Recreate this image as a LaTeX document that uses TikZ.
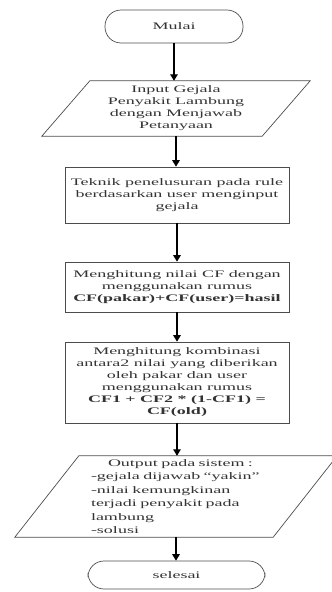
\documentclass[tikz,border=0pt]{standalone}
\usepackage{fontspec}
\setmainfont{Liberation Serif}[FakeStretch=1.8]
\usetikzlibrary{arrows.meta}

\begin{document}
\begin{tikzpicture}[x=1pt, y=1pt,
    font=\fontsize{10}{12}\selectfont,
    line/.style={draw=black!70, line width=0.7pt},
    term/.style={line, rectangle, rounded corners=16pt, align=center, text=black!80},
    proc/.style={line, rectangle, minimum width=224pt, align=center, text=black!80, inner sep=0pt},
    io/.style={rectangle, inner sep=0pt, text=black!80},
    arr/.style={-{Triangle[width=7.5pt,length=6.5pt]}, line width=1.3pt, black}]
    \useasboundingbox (0,0) rectangle (332,-592);

    % Start
    \node[term, minimum width=138pt, minimum height=33pt] (start) at (174,-26.5) {Mulai};

    % Input
    \node[io, minimum width=220pt, minimum height=55pt, align=center] (in) at (176,-108.5)
        {Input Gejala\\Penyakit Lambung\\dengan Menjawab\\Petanyaan};
    \draw[line] ([xshift=24pt]in.north west) -- ([xshift=24pt]in.north east)
        -- ([xshift=-24pt]in.south east) -- ([xshift=-24pt]in.south west) -- cycle;

    % Process steps
    \node[proc, minimum height=56pt] (s1) at (177,-195)
        {Teknik penelusuran pada rule\\berdasarkan user menginput\\gejala};
    \node[proc, minimum height=50pt] (s2) at (177,-287)
        {Menghitung nilai CF dengan\\menggunakan rumus\\\textbf{CF(pakar)+CF(user)=hasil}};
    \node[proc, minimum height=81pt] (s3) at (177,-382.5)
        {Menghitung kombinasi\\antara2 nilai yang diberikan\\oleh pakar dan user\\menggunakan rumus\\
         \textbf{CF1 + CF2 * (1-CF1) =}\\\textbf{CF(old)}};

    % Output
    \node[io, minimum width=253pt, minimum height=81pt, text width=170pt, align=left,
        font=\fontsize{10}{13.4}\selectfont] (out) at (176,-496.5)
        {\hspace*{17pt}Output pada sistem :\\-gejala dijawab ``yakin''\\-nilai kemungkinan\\
         terjadi penyakit pada\\lambung\\-solusi};
    \draw[line] ([xshift=29.5pt]out.north west) -- ([xshift=34.5pt]out.north east)
        -- ([xshift=-29.5pt]out.south east) -- ([xshift=-34.5pt]out.south west) -- cycle;

    % End
    \node[term, minimum width=177pt, minimum height=28pt] (end) at (176.5,-575) {selesai};

    % Flow
    \draw[arr] (start) -- (start |- in.north);
    \draw[arr] (in.south) -- (in.south |- s1.north);
    \draw[arr] (s1) -- (s2);
    \draw[arr] (s2) -- (s3);
    \draw[arr] (s3) -- (s3 |- out.north);
    \draw[arr] (out.south) -- (out.south |- end.north);
\end{tikzpicture}
\end{document}
